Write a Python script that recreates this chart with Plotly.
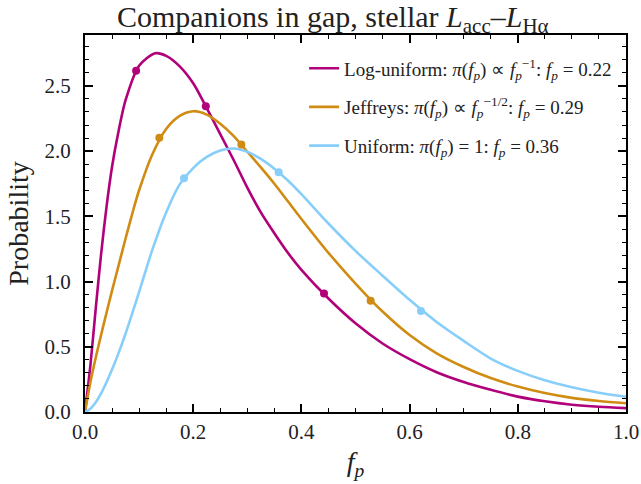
import plotly.graph_objects as go

# f_p grid and probability values
f_log = [0, 0.01, 0.02, 0.03, 0.04, 0.05, 0.06, 0.075, 0.1, 0.13, 0.15, 0.175, 0.2, 0.225, 0.25, 0.275, 0.3, 0.325, 0.35, 0.375, 0.4, 0.45, 0.5, 0.55, 0.6, 0.65, 0.7, 0.75, 0.8, 0.85, 0.9, 0.95, 1.0]
p_log = [0, 0.36, 0.80, 1.22, 1.58, 1.88, 2.11, 2.39, 2.655, 2.75, 2.73, 2.65, 2.52, 2.33, 2.13, 1.93, 1.72, 1.53, 1.37, 1.22, 1.09, 0.87, 0.68, 0.525, 0.405, 0.305, 0.23, 0.17, 0.118, 0.082, 0.056, 0.04, 0.03]

f_jef = [0, 0.01, 0.02, 0.03, 0.04, 0.05, 0.06, 0.075, 0.09, 0.1, 0.125, 0.15, 0.175, 0.2, 0.225, 0.25, 0.275, 0.3, 0.325, 0.35, 0.375, 0.4, 0.45, 0.5, 0.55, 0.6, 0.65, 0.7, 0.75, 0.8, 0.85, 0.9, 0.95, 1.0]
p_jef = [0, 0.23, 0.42, 0.595, 0.765, 0.93, 1.09, 1.33, 1.56, 1.70, 1.98, 2.17, 2.27, 2.306, 2.28, 2.21, 2.115, 1.995, 1.875, 1.75, 1.615, 1.48, 1.22, 0.985, 0.77, 0.59, 0.45, 0.345, 0.26, 0.195, 0.145, 0.108, 0.084, 0.067]

f_uni = [0, 0.01, 0.02, 0.03, 0.04, 0.05, 0.06, 0.075, 0.09, 0.1, 0.125, 0.15, 0.175, 0.2, 0.225, 0.25, 0.275, 0.3, 0.325, 0.35, 0.375, 0.4, 0.45, 0.5, 0.55, 0.6, 0.65, 0.7, 0.75, 0.8, 0.85, 0.9, 0.95, 1.0]
p_uni = [0, 0.025, 0.075, 0.145, 0.23, 0.325, 0.43, 0.60, 0.79, 0.92, 1.25, 1.53, 1.745, 1.87, 1.955, 2.005, 2.02, 1.995, 1.94, 1.865, 1.775, 1.67, 1.445, 1.235, 1.045, 0.86, 0.69, 0.545, 0.41, 0.315, 0.243, 0.19, 0.148, 0.117]

# percentile marker points
mk_log_f = [0.0945, 0.2233, 0.4418]
mk_log_p = [2.615, 2.344, 0.909]
mk_jef_f = [0.1374, 0.289, 0.528]
mk_jef_p = [2.102, 2.051, 0.853]
mk_uni_f = [0.183, 0.358, 0.621]
mk_uni_p = [1.791, 1.837, 0.774]

names = [
    "Log-uniform: <i>π</i>(<i>f<sub>p</sub></i>) ∝ <i>f<sub>p</sub></i><sup>−1</sup>: <i>f<sub>p</sub></i> = 0.22",
    "Jeffreys: <i>π</i>(<i>f<sub>p</sub></i>) ∝ <i>f<sub>p</sub></i><sup>−1/2</sup>: <i>f<sub>p</sub></i> = 0.29",
    "Uniform: <i>π</i>(<i>f<sub>p</sub></i>) = 1: <i>f<sub>p</sub></i> = 0.36",
]
colors = ["#b0007a", "#d08c12", "#87cefa"]

fig = go.Figure()
series = [(f_log, p_log, mk_log_f, mk_log_p), (f_jef, p_jef, mk_jef_f, mk_jef_p), (f_uni, p_uni, mk_uni_f, mk_uni_p)]
for i, (fx, py, mx, my) in enumerate(series):
    fig.add_trace(go.Scatter(x=fx, y=py, mode="lines", name=names[i],
                             line=dict(color=colors[i], width=2.6, shape="spline", smoothing=0.8),
                             legendgroup=f"g{i}"))
for i, (fx, py, mx, my) in enumerate(series):
    fig.add_trace(go.Scatter(x=mx, y=my, mode="markers", showlegend=False,
                             marker=dict(color=colors[i], size=8), legendgroup=f"g{i}"))

font_family = "Liberation Serif"
txt = "#222"
axis_common = dict(
    showline=True, linecolor="black", linewidth=2, mirror="allticks",
    ticks="inside", ticklen=8, tickwidth=1.5, tickcolor="black",
    showgrid=False, zeroline=False, automargin=False,
    tickfont=dict(family=font_family, size=21, color=txt),
)
fig.update_xaxes(range=[0, 1], dtick=0.2, tickformat=".1f", ticklabelstandoff=0,
                 minor=dict(dtick=0.05, ticks="inside", ticklen=4, tickwidth=1.2, tickcolor="black"),
                 title=dict(text="<i>f<sub>p</sub></i>", font=dict(family=font_family, size=28, color=txt), standoff=8),
                 **axis_common)
fig.update_yaxes(range=[0, 2.89], dtick=0.5, tickformat=".1f", ticklabelstandoff=8,
                 minor=dict(dtick=0.1, ticks="inside", ticklen=4, tickwidth=1.2, tickcolor="black"),
                 title=dict(text="Probability", font=dict(family=font_family, size=28, color=txt), standoff=8),
                 **axis_common)

fig.update_layout(
    width=641, height=484,
    margin=dict(l=85, r=15, t=35, b=72),
    paper_bgcolor="white", plot_bgcolor="white",
    title=dict(text="Companions in gap, stellar <i>L</i><sub>acc</sub>–<i>L</i><sub>Hα</sub>",
               font=dict(family=font_family, size=30, color=txt),
               x=0.458, xref="paper", xanchor="center",
               yref="container", y=1 - 16 / 484, yanchor="middle"),
    legend=dict(x=0.405, y=0.962, xanchor="left", yanchor="top", bgcolor="rgba(0,0,0,0)",
                font=dict(family=font_family, size=19, color=txt),
                traceorder="grouped", tracegroupgap=11, itemwidth=30),
    showlegend=True,
)

fig.write_html("out.html", config={"displayModeBar": False},
               post_script="document.body.style.margin='0';document.body.style.overflow='hidden';")
